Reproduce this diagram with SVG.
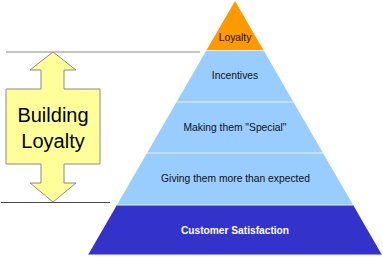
<svg xmlns="http://www.w3.org/2000/svg" width="383" height="257" viewBox="0 0 383 257">
<style>
.t{font-family:"Liberation Sans",Arial,sans-serif;font-size:10.3px;fill:#111;text-anchor:middle}
.sep{stroke:#e6f2ff;stroke-width:1.2}
</style>
<rect width="383" height="257" fill="#fff"/>
<g id="connectors">
<line x1="6" y1="52" x2="200" y2="52" stroke="#8a8a8a" stroke-width="1.2"/>
<line x1="1" y1="202.5" x2="110" y2="202.5" stroke="#4a4a4a" stroke-width="1.2"/>
</g>
<g id="arrow">
<polygon points="53,52 76,70 64,70 64,89 100,89 100,164 64,164 64,183 76,183 53,202 30,183 41,183 41,164 6,164 6,89 41,89 41,70 30,70" fill="#ffff99" stroke="#8a8a8a" stroke-width="1"/>
<text x="53" y="122" style="font-family:'Liberation Sans',Arial,sans-serif;font-size:20px;fill:#000;text-anchor:middle">Building</text>
<text x="53" y="148" style="font-family:'Liberation Sans',Arial,sans-serif;font-size:20px;fill:#000;text-anchor:middle">Loyalty</text>
</g>
<g id="level-loyalty">
<polygon points="235,1 263.4,50 206.6,50" fill="#ff9900"/>
<text class="t" x="235" y="41">Loyalty</text>
</g>
<g id="level-incentives">
<polygon points="206.6,50 263.4,50 293.4,102 176.6,102" fill="#99ccff"/>
<text class="t" x="235" y="79">Incentives</text>
</g>
<g id="level-special">
<polygon points="176.6,102 293.4,102 323,153 147,153" fill="#99ccff"/>
<text class="t" x="235" y="131">Making them "Special"</text>
</g>
<g id="level-more">
<polygon points="147,153 323,153 353.1,205 116.9,205" fill="#99ccff"/>
<text class="t" x="235.5" y="182">Giving them more than expected</text>
</g>
<g id="level-satisfaction">
<polygon points="116.9,205 353.1,205 382,255 88,255" fill="#3333cc"/>
<text x="235" y="234" style="font-family:'Liberation Sans',Arial,sans-serif;font-size:10.2px;font-weight:bold;fill:#fff;text-anchor:middle">Customer Satisfaction</text>
</g>
<g id="separators">
<line class="sep" x1="206.6" y1="50.5" x2="263.4" y2="50.5"/>
<line class="sep" x1="176.6" y1="102" x2="293.4" y2="102"/>
<line class="sep" x1="147" y1="153" x2="323" y2="153"/>
<line class="sep" x1="116.9" y1="205" x2="353.1" y2="205"/>
<line class="sep" x1="88" y1="255" x2="382" y2="255"/>
</g>
</svg>
